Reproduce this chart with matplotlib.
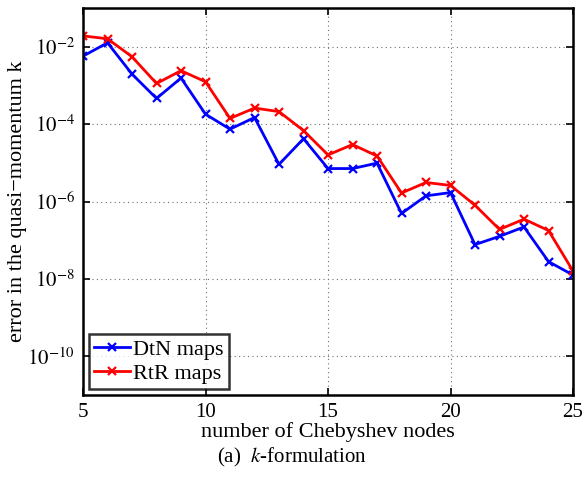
import numpy as np
import matplotlib
matplotlib.use("Agg")
import matplotlib.pyplot as plt

plt.rcParams['font.family'] = ['Liberation Serif', 'DejaVu Serif']
plt.rcParams['mathtext.fontset'] = 'stix'

nodes = [5, 6, 7, 8, 9, 10, 11, 12, 13, 14, 15, 16, 17, 18, 19, 20, 21, 22, 23, 24, 25]
dtn_err = [5.7e-3, 1.26e-2, 1.96e-3, 4.6e-4, 1.55e-3, 1.8e-4, 7.4e-5, 1.48e-4, 9.1e-6, 4.2e-5,
           7.1e-6, 7.1e-6, 9.8e-6, 4.9e-7, 1.4e-6, 1.7e-6, 7.7e-8, 1.26e-7, 2.2e-7, 2.8e-8, 1.26e-8]
rtr_err = [1.9e-2, 1.6e-2, 5.5e-3, 1.12e-3, 2.4e-3, 1.24e-3, 1.4e-4, 2.6e-4, 2.1e-4, 6.8e-5,
           1.6e-5, 2.96e-5, 1.5e-5, 1.66e-6, 3.1e-6, 2.6e-6, 8e-7, 1.9e-7, 3.5e-7, 1.78e-7, 1.6e-8]
xticks = [5, 10, 15, 20, 25]
yticks = [1e-10, 1e-8, 1e-6, 1e-4, 1e-2]

fig = plt.figure(figsize=(5.85, 4.78), dpi=100)
ax = fig.add_axes([0.1419, 0.1736, 0.8376, 0.8097])

ax.semilogy(nodes, dtn_err, color='#0000ff', lw=2, marker='x', ms=5.5, mew=1.6, label='DtN maps')
ax.semilogy(nodes, rtr_err, color='#ff0000', lw=2, marker='x', ms=5.5, mew=1.6, label='RtR maps')

ax.set_xlim(5, 25)
ax.set_ylim(1e-11, 1e-1)
ax.set_xticks(xticks)
ax.set_yticks(yticks)
ax.yaxis.set_minor_locator(matplotlib.ticker.NullLocator())
ax.set_yticklabels([r'$10^{%d}$' % int(np.log10(v)) for v in yticks])
ax.tick_params(which='both', direction='in', top=True, right=True, labelsize=15, length=5, width=1.2, pad=6)
ax.grid(True, linestyle=(0, (1, 3)), color='#707070', lw=0.8)
for s in ax.spines.values():
    s.set_linewidth(1.8)

ax.set_xlabel('number of Chebyshev nodes', fontsize=16, labelpad=0)
ax.set_ylabel('error in the quasi\u2212momentum k', fontsize=16, labelpad=0)

leg = ax.legend(loc='lower left', fontsize=16, frameon=True, fancybox=False, borderpad=0.25,
                handlelength=1.6, handletextpad=0.15, labelspacing=0.15, borderaxespad=0.25)
leg.get_frame().set_edgecolor('black')
leg.get_frame().set_linewidth(1.8)

fig.text(0.5, 0.042, r'(a)  $\it{k}$-formulation', ha='center', va='center', fontsize=15)

fig.savefig('out.png', dpi=100)
